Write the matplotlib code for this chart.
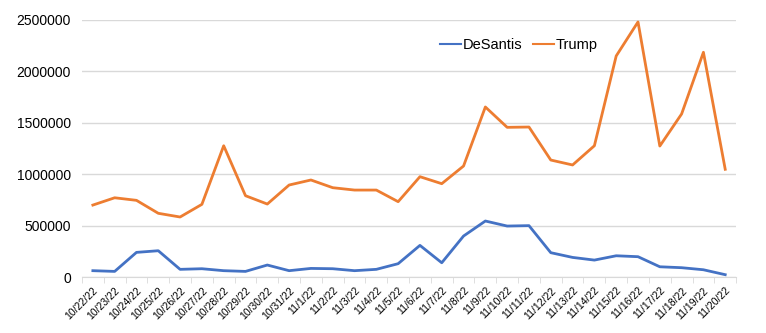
import numpy as np
import matplotlib.pyplot as plt

plt.rcParams['font.family'] = ['Liberation Sans', 'DejaVu Sans']

dates = ["10/22/22", "10/23/22", "10/24/22", "10/25/22", "10/26/22", "10/27/22",
         "10/28/22", "10/29/22", "10/30/22", "10/31/22", "11/1/22", "11/2/22",
         "11/3/22", "11/4/22", "11/5/22", "11/6/22", "11/7/22", "11/8/22",
         "11/9/22", "11/10/22", "11/11/22", "11/12/22", "11/13/22", "11/14/22",
         "11/15/22", "11/16/22", "11/17/22", "11/18/22", "11/19/22", "11/20/22"]

desantis = [62000, 55000, 240000, 256000, 75000, 81000, 62000, 55000, 117000, 62000,
            84000, 81000, 62000, 75000, 130000, 308000, 139000, 399000, 545000, 496000,
            500000, 237000, 191000, 165000, 207000, 198000, 100000, 91000, 71000, 23000]

trump = [700000, 771000, 746000, 620000, 584000, 707000, 1277000, 791000, 710000, 895000,
         944000, 869000, 846000, 846000, 733000, 976000, 908000, 1080000, 1654000, 1456000,
         1459000, 1138000, 1090000, 1277000, 2150000, 2481000, 1274000, 1586000, 2186000, 1048000]

fig = plt.figure(figsize=(7.66, 3.33), dpi=100)
ax = fig.add_axes([0.107, 0.168, 0.854, 0.772])

x = np.arange(len(dates))
ax.plot(x, desantis, color="#4472C4", lw=2.0, label="DeSantis", solid_joinstyle="round")
ax.plot(x, trump, color="#ED7D31", lw=2.0, label="Trump", solid_joinstyle="round")

ax.set_xlim(-0.5, len(dates) - 0.5)
ax.set_ylim(0, 2500000)
ax.set_yticks(np.arange(0, 2500001, 500000))
ax.set_yticklabels([str(v) for v in range(0, 2500001, 500000)], fontsize=10)
ax.yaxis.grid(True, color="#d9d9d9", lw=1)
ax.set_axisbelow(True)

ax.set_xticks(x)
ax.set_xticklabels(dates, rotation=45, ha="right", rotation_mode="anchor", fontsize=7.5)
ax.tick_params(axis="x", which="major", length=0, pad=6)
ax.set_xticks(np.arange(-0.5, len(dates), 1), minor=True)
ax.tick_params(axis="x", which="minor", length=4, color="#d9d9d9")
ax.tick_params(axis="y", length=0, pad=8)

for side in ["top", "right", "left"]:
    ax.spines[side].set_visible(False)
ax.spines["bottom"].set_color("#d9d9d9")

leg = fig.legend(loc="center", bbox_to_anchor=(0.677, 0.865), ncol=2, frameon=False,
                 fontsize=10.5, handlelength=1.45, columnspacing=0.75, handletextpad=0.1)
for line in leg.get_lines():
    line.set_linewidth(1.5)

fig.savefig("out.png", dpi=100)
